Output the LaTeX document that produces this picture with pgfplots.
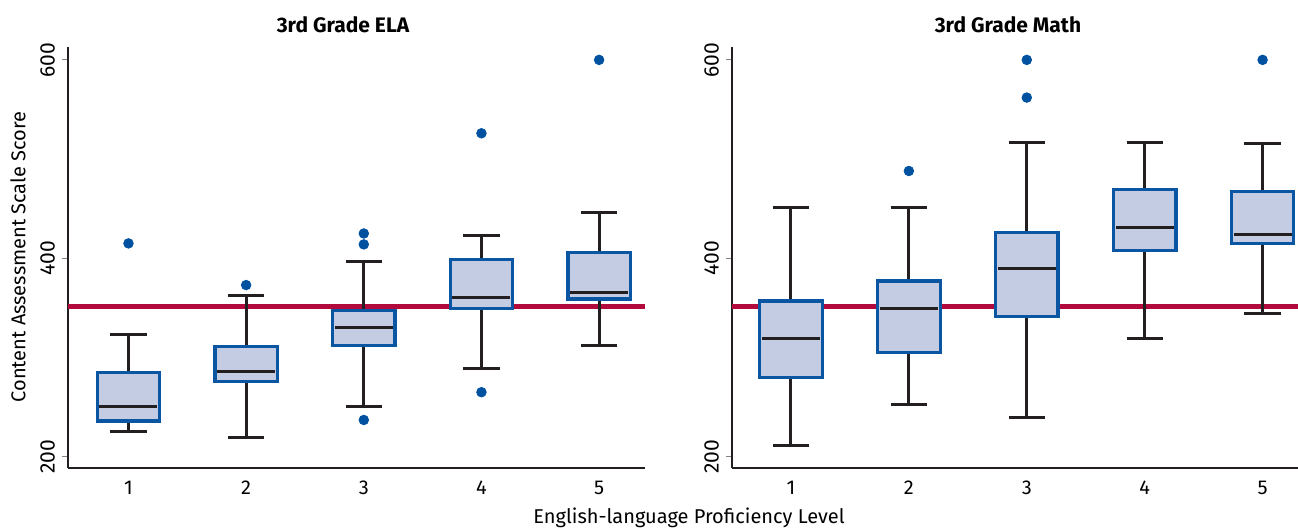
\documentclass[border=0pt]{standalone}
\usepackage{fontspec}
\setmainfont{Fira Sans}
\usepackage{pgfplots}
\usepackage{pgfplotstable}
\pgfplotsset{compat=1.18}

\definecolor{boxfill}{RGB}{196,204,228}
\definecolor{boxedge}{RGB}{10,86,162}
\definecolor{dotblue}{RGB}{0,82,160}
\definecolor{refred}{RGB}{178,10,60}
\definecolor{axisgray}{RGB}{35,31,32}

% five-number summaries per proficiency level
\pgfplotstableread{
pos lw  q1  med q3  uw
1   225 236 251 285 323
2   219 276 286 311 362
3   251 312 330 347 397
4   289 349 360 399 423
5   312 359 366 406 446
}\ela
\pgfplotstableread{
pos lw  q1  med q3  uw
1   211 280 319 357 451
2   253 305 349 377 451
3   240 341 390 426 517
4   319 408 431 469 517
5   344 415 424 467 516
}\math

\pgfplotsset{
  panel/.style={
    scale only axis,
    height=210.5pt,
    ymin=188.6, ymax=613,
    axis x line*=bottom, axis y line*=left,
    axis line style={line width=1.2pt, color=axisgray},
    xtick={1,2,3,4,5}, ytick={200,400,600},
    xtick style={draw=none},
    ytick style={line width=0.6pt, color=gray},
    major tick length=3pt, tick align=outside,
    yticklabel style={rotate=90, anchor=south, font=\fontsize{10.5}{12}\selectfont},
    xticklabel style={font=\fontsize{10}{12}\selectfont},
    /pgf/number format/assume math mode=true,
  },
  whisk/.style={draw=none, mark=none,
    error bars/.cd, y dir=both, y explicit,
    error bar style={draw=axisgray, line width=1.5pt},
    error mark options={rotate=90, draw=axisgray, line width=1.5pt, mark size=9.1pt}},
  bx/.style={fill=boxfill, draw=boxedge, line width=1.6pt, line cap=rect, line join=miter},
  med/.style={only marks, mark=-, mark size=14.5pt, mark options={axisgray, line width=1.5pt}},
  outl/.style={only marks, mark=*, mark size=2.4pt, dotblue},
}

\begin{document}
\begin{tikzpicture}
\useasboundingbox (0,0) rectangle (649pt,264.5pt);

% ELA
\begin{axis}[panel, at={(34pt,30.5pt)}, anchor=south west, width=288.5pt,
  xmin=0.486, xmax=5.39]
  \addplot[refred, line width=2.6pt] coordinates {(0.486,351) (5.39,351)};
  \addplot[whisk] table[x=pos, y=med,
    y error plus expr=\thisrow{uw}-\thisrow{med},
    y error minus expr=\thisrow{med}-\thisrow{lw}] {\ela};
  \addplot[bx] coordinates {(0.735,236) (1.265,236) (1.265,285) (0.735,285) (0.735,236)};
  \addplot[bx] coordinates {(1.735,276) (2.265,276) (2.265,311) (1.735,311) (1.735,276)};
  \addplot[bx] coordinates {(2.735,312) (3.265,312) (3.265,347) (2.735,347) (2.735,312)};
  \addplot[bx] coordinates {(3.735,349) (4.265,349) (4.265,399) (3.735,399) (3.735,349)};
  \addplot[bx] coordinates {(4.735,359) (5.265,359) (5.265,406) (4.735,406) (4.735,359)};
  \addplot[med] table[x=pos, y=med] {\ela};
  \addplot[outl] coordinates {(1,415) (2,373) (3,425) (3,414) (3,237) (4,526) (4,265) (5,600)};
\end{axis}

% Math
\begin{axis}[panel, at={(366pt,30.5pt)}, anchor=south west, width=283pt,
  xmin=0.5, xmax=5.3]
  \addplot[refred, line width=2.6pt] coordinates {(0.5,351) (5.3,351)};
  \addplot[whisk] table[x=pos, y=med,
    y error plus expr=\thisrow{uw}-\thisrow{med},
    y error minus expr=\thisrow{med}-\thisrow{lw}] {\math};
  \addplot[bx] coordinates {(0.735,280) (1.265,280) (1.265,357) (0.735,357) (0.735,280)};
  \addplot[bx] coordinates {(1.735,305) (2.265,305) (2.265,377) (1.735,377) (1.735,305)};
  \addplot[bx] coordinates {(2.735,341) (3.265,341) (3.265,426) (2.735,426) (2.735,341)};
  \addplot[bx] coordinates {(3.735,408) (4.265,408) (4.265,469) (3.735,469) (3.735,408)};
  \addplot[bx] coordinates {(4.735,415) (5.265,415) (5.265,467) (4.735,467) (4.735,415)};
  \addplot[med] table[x=pos, y=med] {\math};
  \addplot[outl] coordinates {(2,488) (3,600) (3,562) (5,600)};
\end{axis}

\node[font=\fontsize{10.5}{12}\selectfont\bfseries] at (171.5pt,252pt) {3rd Grade ELA};
\node[font=\fontsize{10.5}{12}\selectfont\bfseries] at (504pt,252pt) {3rd Grade Math};
\node[font=\fontsize{10}{12}\selectfont] at (344.5pt,5.5pt) {English-language Proficiency Level};
\node[font=\fontsize{10}{12}\selectfont, rotate=90] at (9pt,136pt) {Content Assessment Scale Score};
\end{tikzpicture}
\end{document}
